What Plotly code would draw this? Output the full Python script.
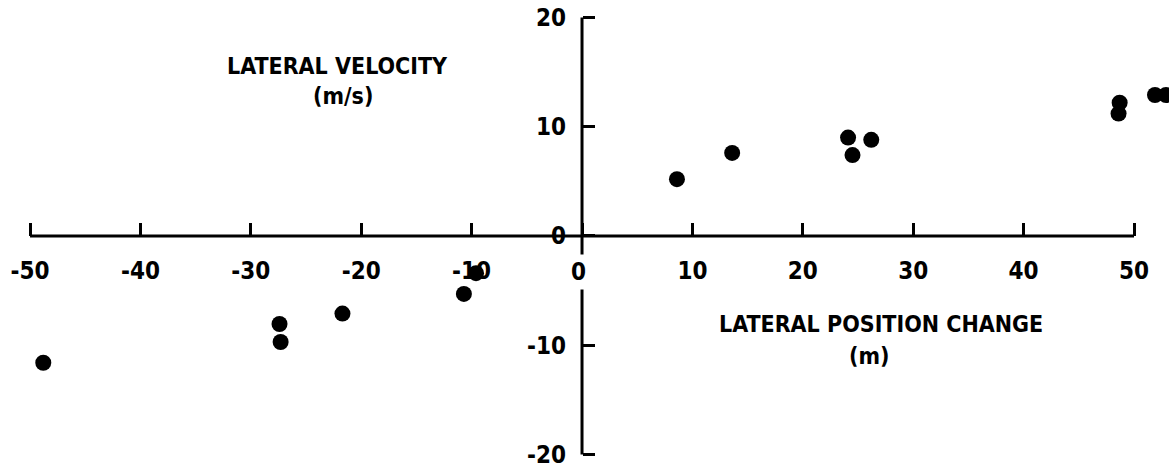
import plotly.graph_objects as go

# Data
lateral_position_m = [-48.8, -27.4, -27.3, -21.7, -10.7, -9.6, 8.6, 13.6, 24.1, 24.5, 26.2, 48.6, 48.7, 51.9, 52.9]
lateral_velocity_ms = [-11.6, -8.05, -9.7, -7.1, -5.3, -3.4, 5.2, 7.6, 9.0, 7.4, 8.8, 11.2, 12.2, 12.9, 12.9]

x_tick_values = [-50, -40, -30, -20, -10, 0, 10, 20, 30, 40, 50]
x_tick_labels = ["-50", "-40", "-30", "-20", "-10", "0", "10", "20", "30", "40", "50"]
y_tick_values = [-20, -10, 0, 10, 20]
y_tick_labels = ["-20", "-10", "0", "10", "20"]

x_title = ["LATERAL POSITION CHANGE", "(m)"]
y_title = ["LATERAL VELOCITY", "(m/s)"]

x_range = [-52.72, 53.17]
y_range = [-21.41, 21.59]

FONT = "DejaVu Sans Condensed, DejaVu Sans, sans-serif"
tick_font = dict(family=FONT, size=24, color="black", weight="bold")
title_font = dict(family=FONT, size=23, color="black", weight="bold")

fig = go.Figure()
fig.add_trace(go.Scatter(
    x=lateral_position_m, y=lateral_velocity_ms, mode="markers",
    marker=dict(size=16, color="black", line=dict(width=0)),
    cliponaxis=False, showlegend=False, hoverinfo="skip",
))

x_pos = (0 - y_range[0]) / (y_range[1] - y_range[0])
y_pos = (0 - x_range[0]) / (x_range[1] - x_range[0])

# x tick text: the 0 label is drawn separately with a white background (breaks the vertical axis)
x_text = [("" if v == 0 else t) for v, t in zip(x_tick_values, x_tick_labels)]

fig.update_layout(
    width=1169, height=470,
    margin=dict(l=0, r=0, t=0, b=0, autoexpand=False),
    paper_bgcolor="white", plot_bgcolor="white",
    xaxis=dict(
        range=x_range, anchor="free", position=x_pos, automargin=False,
        showgrid=False, zeroline=False, showline=False,
        ticks="inside", ticklen=13, tickwidth=3, tickcolor="black",
        tickmode="array", tickvals=x_tick_values, ticktext=x_text,
        tickfont=tick_font, ticklabelstandoff=18,
    ),
    yaxis=dict(
        range=y_range, anchor="free", position=y_pos, automargin=False,
        showgrid=False, zeroline=False, showline=False,
        ticks="inside", ticklen=12, tickwidth=3, tickcolor="black",
        tickmode="array", tickvals=y_tick_values, ticktext=y_tick_labels,
        tickfont=tick_font, ticklabelstandoff=16,
    ),
    shapes=[
        dict(type="line", xref="x", yref="y", x0=x_tick_values[0], x1=x_tick_values[-1],
             y0=0, y1=0, line=dict(color="black", width=3), layer="below"),
        dict(type="line", xref="x", yref="y", x0=0, x1=0,
             y0=y_tick_values[0], y1=y_tick_values[-1], line=dict(color="black", width=3), layer="below"),
    ],
    annotations=[
        dict(x=0, y=0, xref="x", yref="y", yshift=-36, xshift=-4, text=x_tick_labels[x_tick_values.index(0)],
             showarrow=False, font=tick_font, bgcolor="white", borderpad=3,
             xanchor="center", yanchor="middle"),
        dict(x=337 / 1169, y=1 - 66 / 470, xref="paper", yref="paper", text=y_title[0],
             showarrow=False, font=title_font, xanchor="center", yanchor="middle"),
        dict(x=343 / 1169, y=1 - 96 / 470, xref="paper", yref="paper", text=y_title[1],
             showarrow=False, font=title_font, xanchor="center", yanchor="middle"),
        dict(x=881 / 1169, y=1 - 324 / 470, xref="paper", yref="paper", text=x_title[0],
             showarrow=False, font=title_font, xanchor="center", yanchor="middle"),
        dict(x=869 / 1169, y=1 - 356 / 470, xref="paper", yref="paper", text=x_title[1],
             showarrow=False, font=title_font, xanchor="center", yanchor="middle"),
    ],
)

fig.write_html(
    "out.html",
    config={"displayModeBar": False},
    post_script="document.body.style.margin='0';document.body.style.overflow='hidden';",
)
